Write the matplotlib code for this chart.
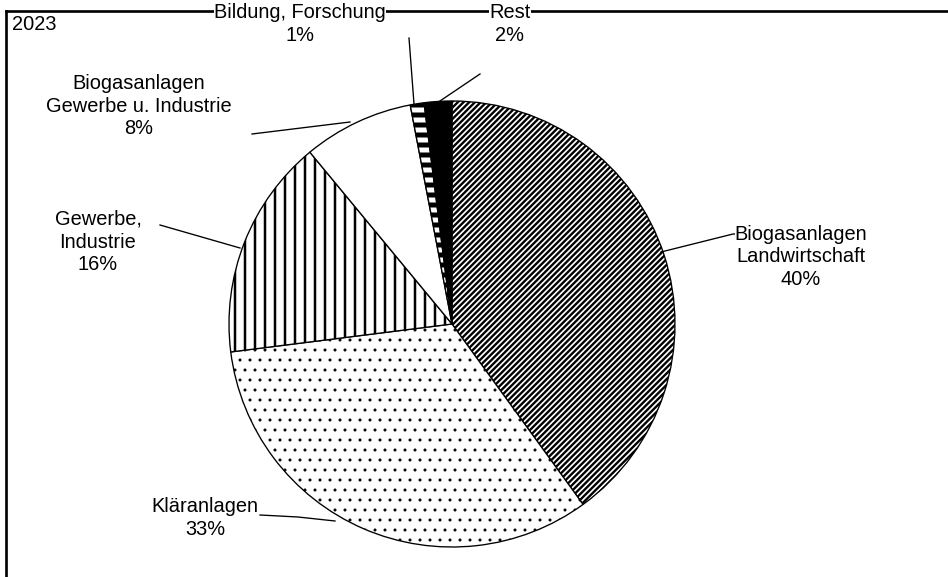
import matplotlib
matplotlib.use('Agg')
import matplotlib.pyplot as plt

# data (clockwise from 12 o'clock)
names = ['Biogasanlagen\nLandwirtschaft', 'Kläranlagen', 'Gewerbe,\nIndustrie',
         'Biogasanlagen\nGewerbe u. Industrie', 'Bildung, Forschung', 'Rest']
shares = [40, 33, 16, 8, 1, 2]
hatches = ['///////', '..', '||', '', '--', '']
hatch_lw = [1.4, 0.6, 1.5, 1.0, 3.0, 1.0]
fills = ['white', 'white', 'white', 'white', 'white', 'black']

W, H = 948, 577
plt.rcParams['font.family'] = ['Liberation Sans', 'DejaVu Sans']
plt.rcParams['hatch.linewidth'] = 1.4

fig = plt.figure(figsize=(W / 120, H / 120), dpi=120)
ax = fig.add_axes([0, 0, 1, 1])

def py(y):                                  # pixel row -> data y
    return H - y

cx, cy, r = 452, 324, 223
wedges, _ = ax.pie(shares, startangle=90, counterclock=False, center=(cx, py(cy)),
                   radius=r, colors=fills,
                   wedgeprops=dict(edgecolor='black', linewidth=0.8))
for w, h, lw in zip(wedges, hatches, hatch_lw):
    w.set_hatch(h)
    if hasattr(w, 'set_hatch_linewidth'):
        w.set_hatch_linewidth(lw)
ax.set_xlim(0, W)
ax.set_ylim(0, H)
ax.set_aspect('equal')
ax.axis('off')

# frame: top and left border only
ax.plot([6, W], [py(11), py(11)], color='black', lw=1.6, clip_on=False)
ax.plot([6, 6], [py(11), 0], color='black', lw=1.6, clip_on=False)

# label blocks and leader lines (pixel layout)
label_pos = [(801, 257), (205, 518), (98, 242), (139, 106), (300, 24), (510, 24)]
leaders = [
    [(746, 234), (733, 234), (661, 252)],
    [(260, 515), (298, 517), (335, 521)],
    [(160, 225), (240, 248)],
    [(252, 134), (350, 122)],
    [(409, 38), (414, 104)],
    [(480, 74), (437, 103)],
]
for name, s, (x, y), pts in zip(names, shares, label_pos, leaders):
    ax.text(x, py(y), f'{name}\n{s}%', ha='center', va='center', fontsize=12,
            linespacing=1.25, bbox=dict(facecolor='white', edgecolor='none', pad=0))
    ax.plot([p[0] for p in pts], [py(p[1]) for p in pts], color='black', lw=0.8)

ax.text(12, py(24), '2023', ha='left', va='center', fontsize=12,
        bbox=dict(facecolor='white', edgecolor='none', pad=0))

fig.savefig('out.png', dpi=120, facecolor='white')
